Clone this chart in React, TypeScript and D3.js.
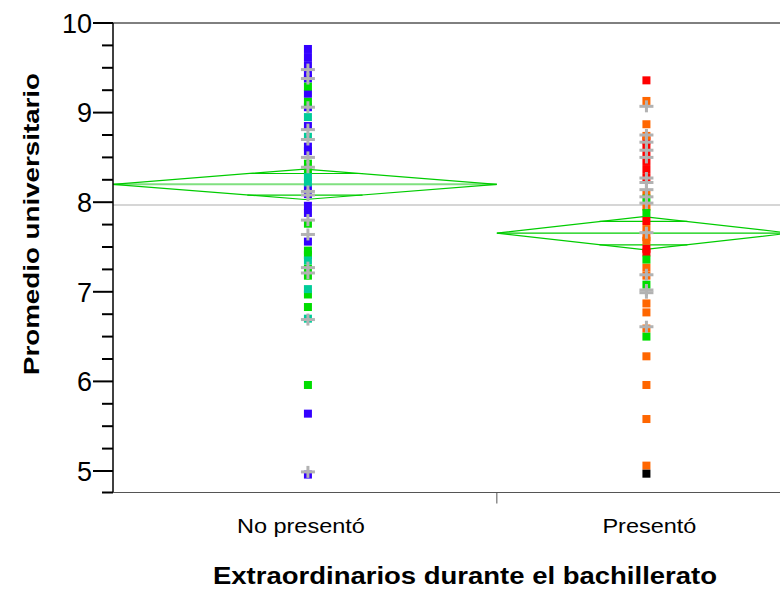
import React from "react";
import * as d3 from "d3";

// ---------- data ----------
const groups = ["No presentó", "Presentó"];
const yTicks = [5, 6, 7, 8, 9, 10];
const yLabel = "Promedio universitario";
const xLabel = "Extraordinarios durante el bachillerato";

// group means and 95% CI half-widths (means diamonds)
const groupMeans = [8.2, 7.655];
const groupCI = [0.17, 0.185];
const grandMean = 7.97;

// points, group 0: "No presentó"
const blueL = [9.71, 9.62, 9.53, 9.44, 9.38, 9.21, 9.06, 8.85, 8.62, 8.57, 8.15, 8.09, 7.96, 7.88, 7.56, 5.64, 4.96];
const greenL = [9.29, 9.12, 8.43, 8.35, 7.76, 7.46, 7.41, 7.26, 7.18, 6.97, 6.83, 5.96];
const tealL = [8.95, 8.73, 8.28, 8.22, 7.35, 7.03, 6.7];
const plusL = [9.48, 9.38, 9.06, 8.81, 8.7, 8.5, 8.39, 8.12, 8.08, 7.8, 7.64, 7.27, 7.21, 6.69, 4.99];

// points, group 1: "Presentó"
const redR = [9.36, 8.69, 8.62, 8.55, 8.46, 8.37, 8.28, 7.79, 7.48, 7.44];
const orangeR = [9.13, 8.87, 8.74, 8.1, 7.95, 7.7, 7.61, 7.57, 7.27, 7.18, 6.87, 6.77, 6.59, 6.28, 5.96, 5.58, 5.06];
const greenR = [8.04, 7.88, 7.36, 7.08, 6.5];
const blackR = [4.97];
const plusR = [9.07, 8.75, 8.67, 8.58, 8.5, 8.27, 8.22, 8.14, 8.06, 7.99, 7.66, 7.19, 7.02, 6.99, 6.61];

// ---------- layout ----------
const W = 780;
const H = 590;
const left = 113;
const top = 23;
const bottom = 492.5;
const plotRight = 790; // plot extends slightly past the visible edge
const bandSplit = 0.567; // relative width of first group band

const FONT = "'Liberation Sans', Arial, Helvetica, sans-serif";
const COLORS = {
  blue: "#3300ff",
  green: "#00dd00",
  teal: "#00cc99",
  red: "#ff0000",
  orange: "#ff6600",
  black: "#000000",
  plus: "#b2b2b2",
  diamond: "#00cc00",
  meanLight: "#80e080",
};

export default function App() {
  const y = d3.scaleLinear().domain([4.76, 10]).range([bottom, top]);
  const xb = d3.scaleLinear().domain([0, 1]).range([left, plotRight]);
  const bands = [
    [xb(0), xb(bandSplit)],
    [xb(bandSplit), xb(1)],
  ];
  const centers = bands.map(([a, b]) => (a + b) / 2);

  const minorTicks = d3.range(4.75, 10.001, 0.25).filter((t) => !yTicks.includes(t));
  const sq = 8;

  const seriesList: { g: number; vals: number[]; color: string }[] = [
    { g: 0, vals: blueL, color: COLORS.blue },
    { g: 0, vals: greenL, color: COLORS.green },
    { g: 0, vals: tealL, color: COLORS.teal },
    { g: 1, vals: redR, color: COLORS.red },
    { g: 1, vals: orangeR, color: COLORS.orange },
    { g: 1, vals: greenR, color: COLORS.green },
    { g: 1, vals: blackR, color: COLORS.black },
  ];
  const plusList = [
    { g: 0, vals: plusL },
    { g: 1, vals: plusR },
  ];

  return (
    <svg
      width={W}
      height={H}
      style={{ position: "absolute", left: 0, top: 0, display: "block", background: "#fff" }}
      fontFamily={FONT}
    >
      <defs>
        <clipPath id="plotclip">
          <rect x={left} y={0} width={W - left} height={bottom + 1} />
        </clipPath>
      </defs>

      {/* top frame line */}
      <line x1={left} x2={W} y1={top} y2={top} stroke="#000" strokeWidth={1} />

      {/* grand mean */}
      <line x1={left} x2={W} y1={y(grandMean)} y2={y(grandMean)} stroke="#c8c8c8" strokeWidth={1.5} />

      {/* means diamonds */}
      <g clipPath="url(#plotclip)">
        {groups.map((_, i) => {
          const [a, b] = bands[i];
          const c = centers[i];
          const m = groupMeans[i];
          const ci = groupCI[i];
          const ov = ci / Math.SQRT2;
          const hw = (b - a) / 2;
          const path = `M${a},${y(m)}L${c},${y(m + ci)}L${b},${y(m)}L${c},${y(m - ci)}Z`;
          return (
            <g key={i}>
              <line
                x1={a}
                x2={b}
                y1={y(m)}
                y2={y(m)}
                stroke={i === 0 ? COLORS.meanLight : COLORS.diamond}
                strokeWidth={i === 0 ? 2 : 1.2}
              />
              <path d={path} fill="none" stroke={COLORS.diamond} strokeWidth={1.2} />
              <line x1={c - hw * 0.3} x2={c + hw * 0.3} y1={y(m + ov)} y2={y(m + ov)} stroke={COLORS.diamond} strokeWidth={1.2} />
              <line x1={c - hw * 0.3} x2={c + hw * 0.3} y1={y(m - ov)} y2={y(m - ov)} stroke={COLORS.diamond} strokeWidth={1.2} />
            </g>
          );
        })}
      </g>

      {/* points */}
      {seriesList.map((s, si) =>
        s.vals.map((v, j) => (
          <rect
            key={`${si}-${j}`}
            x={centers[s.g] + 3 - sq / 2}
            y={y(v) - sq / 2}
            width={sq}
            height={sq}
            fill={s.color}
          />
        ))
      )}
      {plusList.map((s, si) =>
        s.vals.map((v, j) => {
          const cx = centers[s.g] + 3;
          const cy = y(v);
          return (
            <g key={`p${si}-${j}`} stroke={COLORS.plus} strokeWidth={3}>
              <line x1={cx - 7} x2={cx + 7} y1={cy} y2={cy} />
              <line x1={cx} x2={cx} y1={cy - 6} y2={cy + 6} />
            </g>
          );
        })
      )}

      {/* y axis */}
      <line x1={left} x2={left} y1={top} y2={bottom} stroke="#000" strokeWidth={1.5} />
      {yTicks.map((t) => (
        <g key={t}>
          <line x1={left - 20} x2={left} y1={y(t)} y2={y(t)} stroke="#000" strokeWidth={2} />
          <text x={left - 21} y={y(t)} dy="0.36em" textAnchor="end" fontSize={27} fill="#000">
            {t}
          </text>
        </g>
      ))}
      {minorTicks.map((t) => (
        <line key={t} x1={left - 11} x2={left} y1={Math.min(y(t), bottom)} y2={Math.min(y(t), bottom)} stroke="#000" strokeWidth={2} />
      ))}

      {/* x axis */}
      <line x1={left} x2={W} y1={bottom} y2={bottom} stroke="#555" strokeWidth={1} />
      <line x1={bands[0][1]} x2={bands[0][1]} y1={bottom} y2={bottom + 11} stroke="#555" strokeWidth={1} />
      <text x={centers[0] - 4} y={533} textAnchor="middle" fontSize={21} textLength={128} lengthAdjust="spacingAndGlyphs" fill="#000">
        {groups[0]}
      </text>
      <text x={centers[1] + 6} y={533} textAnchor="middle" fontSize={21} textLength={94} lengthAdjust="spacingAndGlyphs" fill="#000">
        {groups[1]}
      </text>

      {/* titles */}
      <text x={465} y={584} textAnchor="middle" fontSize={23} fontWeight="bold" textLength={504} lengthAdjust="spacingAndGlyphs" fill="#000">
        {xLabel}
      </text>
      <text
        transform={`translate(39,224) rotate(-90)`}
        textAnchor="middle"
        fontSize={22}
        fontWeight="bold"
        textLength={302}
        lengthAdjust="spacingAndGlyphs"
        fill="#000"
      >
        {yLabel}
      </text>
    </svg>
  );
}
